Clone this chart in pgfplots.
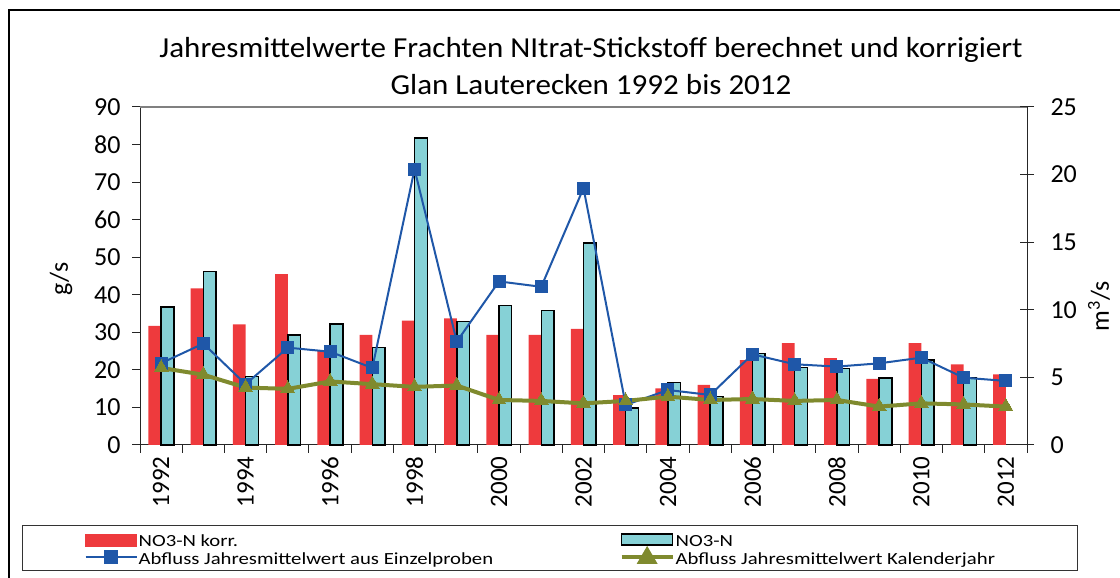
\documentclass[border=0pt]{standalone}
\usepackage{pgfplots}
\pgfplotsset{compat=1.18}
\usepackage{pgfplotstable}
\usepackage{fontspec}
\setmainfont{Carlito}
\newfontfamily\titlefont[FakeStretch=1.07]{Carlito}
\newfontfamily\legfont[FakeStretch=1.22]{Carlito}
\definecolor{nred}{HTML}{EE3A3D}
\definecolor{ncyan}{HTML}{86D1D6}
\definecolor{nblue}{HTML}{1F57A8}
\definecolor{nolive}{HTML}{7F8A2E}
\pgfplotstableread{
x korr no3
0 31.7 36.8
1 41.7 46.2
2 32.1 18.2
3 45.5 29.3
4 25.0 32.2
5 29.3 26.0
6 33.1 81.7
7 33.7 32.9
8 29.3 37.1
9 29.3 35.8
10 30.9 53.8
11 13.3 9.8
12 15.1 16.7
13 16.0 12.9
14 22.6 24.4
15 27.1 20.6
16 23.1 20.4
17 17.6 17.8
18 27.1 22.6
19 21.5 17.9
20 18.8 nan
}\bars
\pgfplotstableread{
x einzel kal
0 6.05 5.70
1 7.50 5.20
2 4.50 4.25
3 7.20 4.15
4 6.90 4.70
5 5.70 4.50
6 20.40 4.30
7 7.65 4.40
8 12.10 3.33
9 11.70 3.26
10 19.00 3.08
11 2.96 3.26
12 4.07 3.58
13 3.70 3.33
14 6.71 3.40
15 5.97 3.26
16 5.80 3.33
17 6.04 2.84
18 6.46 3.08
19 4.98 3.00
20 4.74 2.84
}\flows
\begin{document}
\begin{tikzpicture}[x=1pt,y=1pt]
\path[use as bounding box] (0,0) rectangle (1120,578);
\draw[line width=2pt] (9,-10) -- (9,568) -- (1130,568);
\node[font=\titlefont\fontsize{29}{32}\selectfont, anchor=base] at (591,520) {Jahresmittelwerte Frachten NItrat-Stickstoff berechnet und korrigiert};
\node[font=\titlefont\fontsize{29}{32}\selectfont, anchor=base] at (591,483) {Glan Lauterecken 1992 bis 2012};
\node[rotate=90,font=\fontsize{26}{28}\selectfont] at (61,299) {g/s};
\node[rotate=90,font=\fontsize{26}{28}\selectfont] at (1099,272) {m\textsuperscript{3}/s};
\draw[line width=1pt, black!80] (22,7) rectangle (1077,52);
\begin{axis}[
  at={(140pt,133pt)}, anchor=south west, scale only axis,
  width=887pt, height=338pt,
  xmin=-0.5, xmax=20.5, ymin=0, ymax=90,
  axis x line*=bottom, axis y line*=left,
  axis line style={black!85, line width=1pt},
  ytick={0,10,...,90},
  xtick={-0.5,0.5,...,20.5},
  x tick label as interval,
  xticklabels={1992,,1994,,1996,,1998,,2000,,2002,,2004,,2006,,2008,,2010,,2012},
  xticklabel style={rotate=90, anchor=east, font=\fontsize{25}{28}\selectfont},
  yticklabel style={font=\fontsize{26}{28}\selectfont, xshift=-8pt},
  /pgf/number format/assume math mode=true,
  tick align=outside, major tick length=8pt,
  tick style={black!85, line width=1pt},
  ybar=0pt, bar width=12.7pt,
  clip=false,
]
\draw[gray, line width=1.2pt] (rel axis cs:0,1) -- (rel axis cs:1,1);
\addplot[fill=nred, draw=none] table[x=x,y=korr] {\bars};
\addplot[fill=ncyan, draw=black, line width=1.5pt] table[x=x,y=no3] {\bars};
\end{axis}
\begin{axis}[
  at={(140pt,133pt)}, anchor=south west, scale only axis,
  width=887pt, height=338pt,
  xmin=-0.5, xmax=20.5, ymin=0, ymax=25,
  axis x line=none, axis y line*=right,
  axis line style={black!85, line width=1pt},
  ytick={0,5,...,25},
  yticklabel style={font=\fontsize{26}{28}\selectfont, xshift=13pt},
  /pgf/number format/assume math mode=true,
  tick align=center, major tick length=14pt,
  tick style={black!85, line width=1pt},
  clip=false,
  legend columns=2,
  legend style={draw=none, fill=none, at={(-0.066,-0.3107)}, anchor=west,
    font=\legfont\fontsize{17}{18}\selectfont, row sep=-1.5pt,
    nodes={inner sep=1pt, anchor=west, yshift=-2pt}},
  legend cell align=left,
]
\addlegendimage{legend image code/.code={\fill[nred] (0pt,-6pt) rectangle (51pt,6pt);}}
\addlegendentry{\makebox[480pt][l]{NO3-N korr.}}
\addlegendimage{legend image code/.code={\filldraw[fill=ncyan, draw=black, line width=1.5pt] (0pt,-5.5pt) rectangle (51pt,5.5pt);}}
\addlegendentry{NO3-N}
\addplot[nblue, line width=2pt, mark=square*, mark size=6pt, mark options={solid, fill=nblue, line width=0pt},
  legend image code/.code={\draw[nblue, line width=2pt] (0pt,0pt) -- (51pt,0pt); \fill[nblue] (19.5pt,-6pt) rectangle (31.5pt,6pt);}]
  table[x=x,y=einzel] {\flows};
\addlegendentry{\makebox[480pt][l]{Abfluss Jahresmittelwert aus Einzelproben}}
\addplot[nolive, line width=4pt, mark=triangle*, mark size=8pt, mark options={solid, fill=nolive, line width=0pt},
  legend image code/.code={\draw[nolive, line width=4pt] (0pt,0pt) -- (51pt,0pt); \fill[nolive] (25.5pt,7pt) -- (18.5pt,-5pt) -- (32.5pt,-5pt) -- cycle;}]
  table[x=x,y=kal] {\flows};
\addlegendentry{Abfluss Jahresmittelwert Kalenderjahr}
\end{axis}
\end{tikzpicture}
\end{document}
